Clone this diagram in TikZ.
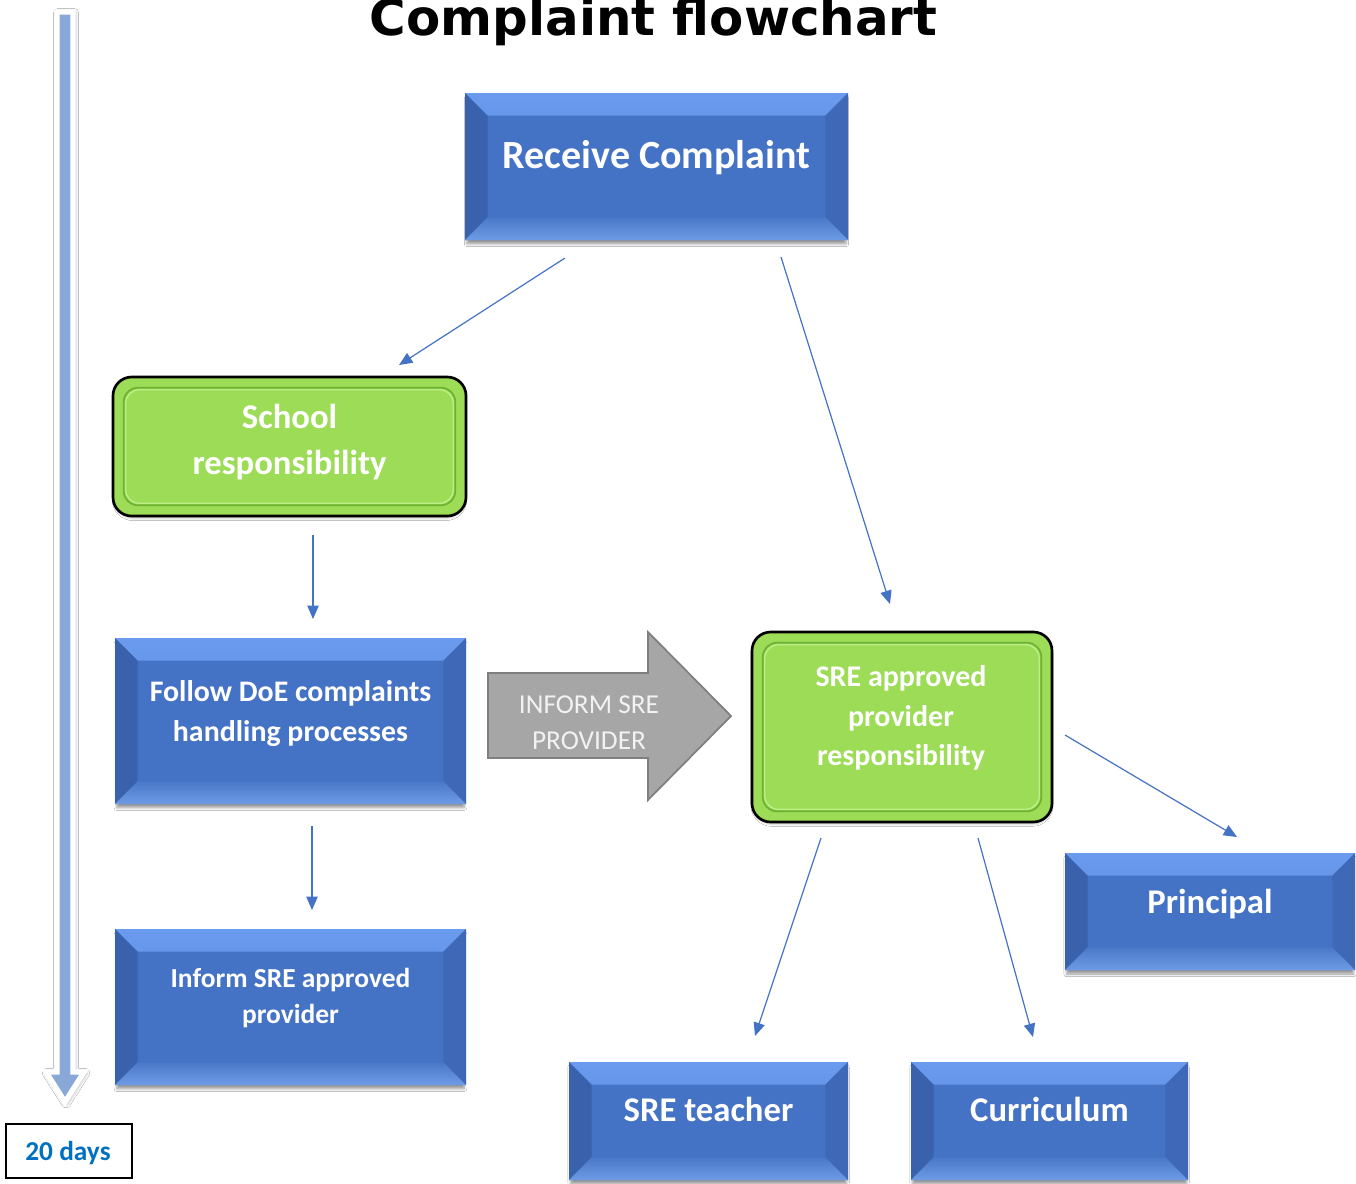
\documentclass[tikz,border=0pt]{standalone}
\usepackage{fontspec}
\setmainfont{Carlito}
\newfontfamily\titlefont{DejaVu Sans}
\usetikzlibrary{arrows.meta,shadows.blur,calc}
\definecolor{bmain}{HTML}{4472C4}
\definecolor{btop}{HTML}{6A9BEE}
\definecolor{btopb}{HTML}{4E7FD6}
\definecolor{bbot}{HTML}{6E9BE4}
\definecolor{bleft}{HTML}{3A61AC}
\definecolor{bright}{HTML}{3F68B6}
\definecolor{gfill}{HTML}{9CDC56}
\definecolor{gline}{HTML}{6FB134}
\definecolor{glight}{HTML}{BDEE88}
\definecolor{afill}{HTML}{A6A6A6}
\definecolor{aline}{HTML}{7F7F7F}
\definecolor{atext}{HTML}{F2F2F2}
\definecolor{tla}{HTML}{BFD1EA}
\definecolor{tlb}{HTML}{89A8D8}
\definecolor{daysblue}{HTML}{0070C0}
\newcommand\bev{17pt}
\newcommand\myfs[1]{\fontsize{#1}{#1}\selectfont\bfseries}
\tikzset{
  x=0.75pt, y=-0.75pt,
  bluebox/.style 2 args={rectangle, fill=bmain, minimum width=#1, minimum height=#2, inner sep=0pt,
    blur shadow={shadow xshift=0pt, shadow yshift=-3.5pt, shadow blur radius=2pt, shadow opacity=40, shadow scale=0.99},
    path picture={
      \fill[top color=btop, bottom color=btopb] (path picture bounding box.north west) -- (path picture bounding box.north east) -- ([shift={(-\bev,-\bev)}]path picture bounding box.north east) -- ([shift={(\bev,-\bev)}]path picture bounding box.north west) -- cycle;
      \fill[bleft] (path picture bounding box.north west) -- (path picture bounding box.south west) -- ([shift={(\bev,\bev)}]path picture bounding box.south west) -- ([shift={(\bev,-\bev)}]path picture bounding box.north west) -- cycle;
      \fill[bright] (path picture bounding box.north east) -- (path picture bounding box.south east) -- ([shift={(-\bev,\bev)}]path picture bounding box.south east) -- ([shift={(-\bev,-\bev)}]path picture bounding box.north east) -- cycle;
      \fill[top color=bmain!85!bbot, bottom color=bbot] (path picture bounding box.south west) -- (path picture bounding box.south east) -- ([shift={(-\bev,\bev)}]path picture bounding box.south east) -- ([shift={(\bev,\bev)}]path picture bounding box.south west) -- cycle;
    }},
  greenbox/.style 2 args={rectangle, rounded corners=14pt, draw=black, line width=2pt, fill=gfill,
    minimum width=#1, minimum height=#2, inner sep=0pt,
    blur shadow={shadow xshift=0pt, shadow yshift=-2pt, shadow blur radius=2pt, shadow opacity=30, shadow scale=0.99},
    path picture={
      \draw[gline, line width=1.3pt, rounded corners=11pt] ([shift={(8pt,-8pt)}]path picture bounding box.north west) rectangle ([shift={(-8pt,8pt)}]path picture bounding box.south east);
      \draw[glight, line width=1pt, rounded corners=10pt] ([shift={(9.6pt,-9.6pt)}]path picture bounding box.north west) rectangle ([shift={(-9.6pt,9.6pt)}]path picture bounding box.south east);
    }},
  wt/.style={text=white, inner sep=0pt, anchor=base},
  conn/.style={draw=bmain, line width=0.9pt, -{Triangle[length=10pt,width=8.5pt]}},
}
\begin{document}
\begin{tikzpicture}
\useasboundingbox (0,0) rectangle (1356,1183);
\clip (0,0) rectangle (1356,1183);
\fill[white] (0,0) rectangle (1356,1183);

% title
\node[font=\titlefont\bfseries\fontsize{37.4pt}{40pt}\selectfont, anchor=base, inner sep=0pt] (title) at (653.5,35) {Complaint flowchart};

% timeline arrow
\path[draw=white, line width=4pt, line join=miter,
  blur shadow={shadow xshift=0.8pt, shadow yshift=-0.8pt, shadow blur radius=3.5pt, shadow opacity=50},
  left color=tlb, middle color=tla, right color=tlb]
  (57,12) -- (73,12) -- (73,1072) -- (84,1072) -- (65,1102) -- (46,1072) -- (57,1072) -- cycle;
\node[draw=black, line width=1.2pt, minimum width=94.5pt, minimum height=40.5pt, inner sep=0pt] (days) at (69,1151) {};
\node[text=daysblue, font=\myfs{20.5pt}, inner sep=0pt, anchor=base] (days-t) at (68,1160) {20 days};

% boxes
\node[bluebox={287.25pt}{110.25pt}] (receive) at (656.5,166.5) {};
\node[wt, font=\myfs{30pt}] (receive-t) at (656.5,168) {Receive Complaint};

\node[greenbox={264.75pt}{104.25pt}] (school) at (289.5,446.5) {};
\node[wt, font=\myfs{26pt}] (school-t1) at (289.5,428) {School};
\node[wt, font=\myfs{26pt}] (school-t2) at (289.5,474) {responsibility};

\node[bluebox={263.25pt}{124.5pt}] (follow) at (290.5,721) {};
\node[wt, font=\myfs{22.4pt}] (follow-t1) at (290.5,701) {Follow DoE complaints};
\node[wt, font=\myfs{22.4pt}] (follow-t2) at (290.5,741) {handling processes};

\node[bluebox={263.25pt}{117pt}] (inform) at (290.5,1007) {};
\node[wt, font=\myfs{20.6pt}] (inform-t1) at (290.5,987) {Inform SRE approved};
\node[wt, font=\myfs{20.6pt}] (inform-t2) at (290.5,1023) {provider};

\node[greenbox={225pt}{142.5pt}] (sre) at (902,727) {};
\node[wt, font=\myfs{22.5pt}] (sre-t1) at (901,686) {SRE approved};
\node[wt, font=\myfs{22.5pt}] (sre-t2) at (901,726) {provider};
\node[wt, font=\myfs{22.5pt}] (sre-t3) at (901,765) {responsibility};

\node[bluebox={217.5pt}{87.75pt}] (principal) at (1210,911.5) {};
\node[wt, font=\myfs{26pt}] (principal-t) at (1210,913) {Principal};

\node[bluebox={209.25pt}{88.5pt}] (teacher) at (708.5,1121) {};
\node[wt, font=\myfs{26pt}] (teacher-t) at (708.5,1121) {SRE teacher};

\node[bluebox={207.75pt}{88.5pt}] (curriculum) at (1049.5,1121) {};
\node[wt, font=\myfs{26pt}] (curriculum-t) at (1049.5,1121) {Curriculum};

% grey block arrow
\path[fill=afill, draw=aline, line width=1.3pt, line join=miter]
  (488,673) -- (648,673) -- (648,632) -- (731,716) -- (648,800) -- (648,758) -- (488,758) -- cycle;
\node[text=atext, inner sep=0pt, anchor=base, font=\fontsize{20.5pt}{20.5pt}\selectfont] (informarrow-t1) at (589,713) {INFORM SRE};
\node[text=atext, inner sep=0pt, anchor=base, font=\fontsize{20.5pt}{20.5pt}\selectfont] (informarrow-t2) at (589,749) {PROVIDER};

% connector ends
\coordinate (c1s) at (565,258);  \coordinate (c1e) at (399,365);
\coordinate (c2s) at (781,257);  \coordinate (c2e) at (890,604);
\coordinate (c3s) at (313,535);  \coordinate (c3e) at (313,619);
\coordinate (c4s) at (312,826);  \coordinate (c4e) at (312,910);
\coordinate (c5s) at (1065,735); \coordinate (c5e) at (1237,837);
\coordinate (c6s) at (821,838);  \coordinate (c6e) at (755,1036);
\coordinate (c7s) at (978,838);  \coordinate (c7e) at (1033,1037);

\draw[conn] (c1s) -- (c1e);
\draw[conn] (c2s) -- (c2e);
\draw[conn] (c3s) -- (c3e);
\draw[conn] (c4s) -- (c4e);
\draw[conn] (c5s) -- (c5e);
\draw[conn] (c6s) -- (c6e);
\draw[conn] (c7s) -- (c7e);
\end{tikzpicture}
\end{document}
